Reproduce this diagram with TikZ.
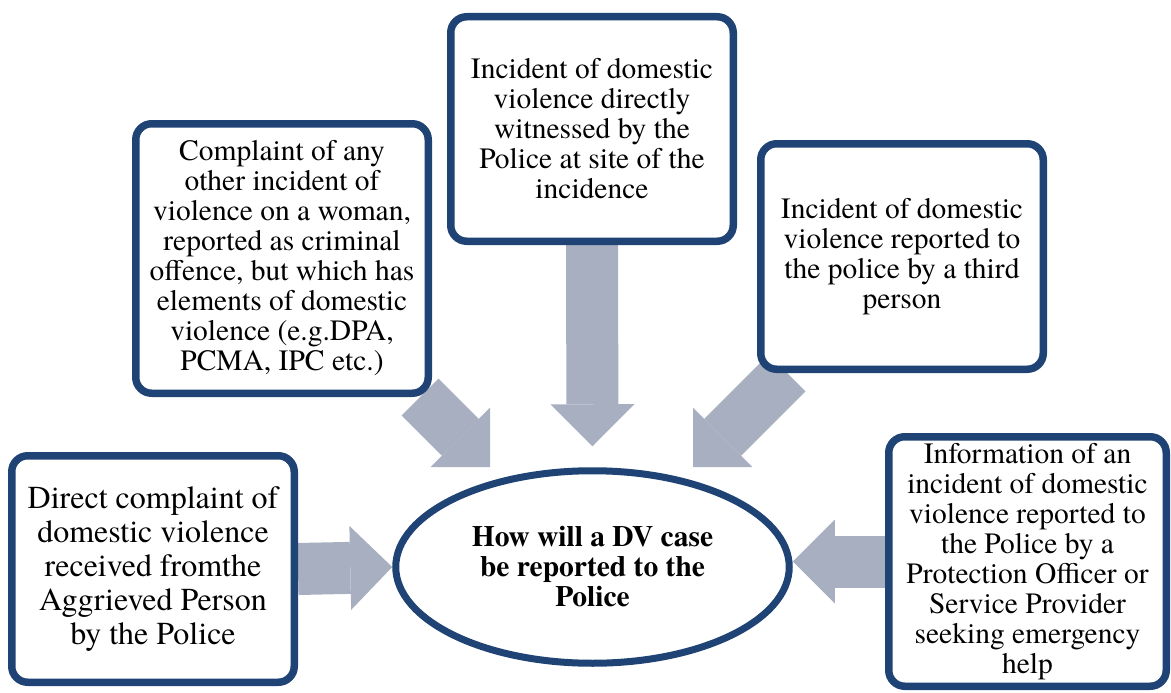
\documentclass[tikz,border=0pt]{standalone}
\usepackage{fontspec}
\setmainfont{texgyretermes}[Extension=.otf, UprightFont=*-regular, BoldFont=*-bold, ItalicFont=*-italic, BoldItalicFont=*-bolditalic]
\usepackage{tikz}
\usetikzlibrary{shapes,arrows.meta,positioning,calc,backgrounds,shadows}
\definecolor{dvblue}{RGB}{31,67,116}
\definecolor{dvgrey}{RGB}{168,175,192}

\begin{document}
\begin{tikzpicture}[
    x=1pt, y=-1pt,
    source/.style={rectangle, draw=dvblue, line width=7.5pt, fill=white, rounded corners=16pt, align=center, inner sep=0pt, font=\fontsize{29.5}{30}\selectfont, drop shadow={shadow xshift=2pt, shadow yshift=-3pt, opacity=0.15}},
    centre/.style={ellipse, draw=dvblue, line width=7pt, fill=white, align=center, inner sep=0pt, font=\fontsize{29.5}{30}\selectfont\bfseries},
    bigarrow/.style={dvgrey, line width=52pt, -{Triangle[length=42pt, width=84pt, line width=0pt]}}
]
    \useasboundingbox (0,0) rectangle (1171,693);

    % central question
    \node[centre, minimum width=393.5pt, minimum height=192.5pt] (centre) at (592.5, 567) {How will a DV case\\be reported to the\\Police};

    % direct complaint
    \node[source, minimum width=282.5pt, minimum height=226.5pt, font=\fontsize{32}{34}\selectfont] (direct) at (153, 569) {Direct complaint of\\domestic violence\\received fromthe\\Aggrieved Person\\by the Police};

    % other criminal complaint
    \node[source, minimum width=292.5pt, minimum height=269.5pt] (complaint) at (282, 258.5) {Complaint of any\\other incident of\\violence on a woman,\\reported as criminal\\offence, but which has\\elements of domestic\\violence (e.g.DPA,\\PCMA, IPC etc.)};

    % witnessed by police
    \node[source, minimum width=282.5pt, minimum height=224.5pt] (witness) at (592, 129) {Incident of domestic\\violence directly\\witnessed by the\\Police at site of the\\incidence};

    % third person
    \node[source, minimum width=282.5pt, minimum height=225.5pt] (third) at (902, 256.5) {Incident of domestic\\violence reported to\\the police by a third\\person};

    % protection officer / service provider
    \node[source, minimum width=277.5pt, minimum height=249.5pt] (info) at (1027.5, 561.5) {Information of an\\incident of domestic\\violence reported to\\the Police by a\\Protection Officer or\\Service Provider\\seeking emergency\\help};

    % arrow tips
    \coordinate (tipT) at ($(centre.north)+(0,-21)$);
    \coordinate (tipL) at (490, 467);
    \coordinate (tipR) at (693, 467);

    % arrows
    \begin{scope}[on background layer]
        \draw[bigarrow] (direct.east) -- (centre.west);
        \draw[bigarrow] (info.west) -- (centre.east |- info.west);
        \draw[bigarrow] (witness.south) -- (tipT);
        \draw[bigarrow] ($(complaint.south east)+(-12,0)$) -- (tipL);
        \draw[bigarrow] ($(third.south west)+(30,0)$) -- (tipR);
    \end{scope}
\end{tikzpicture}
\end{document}
